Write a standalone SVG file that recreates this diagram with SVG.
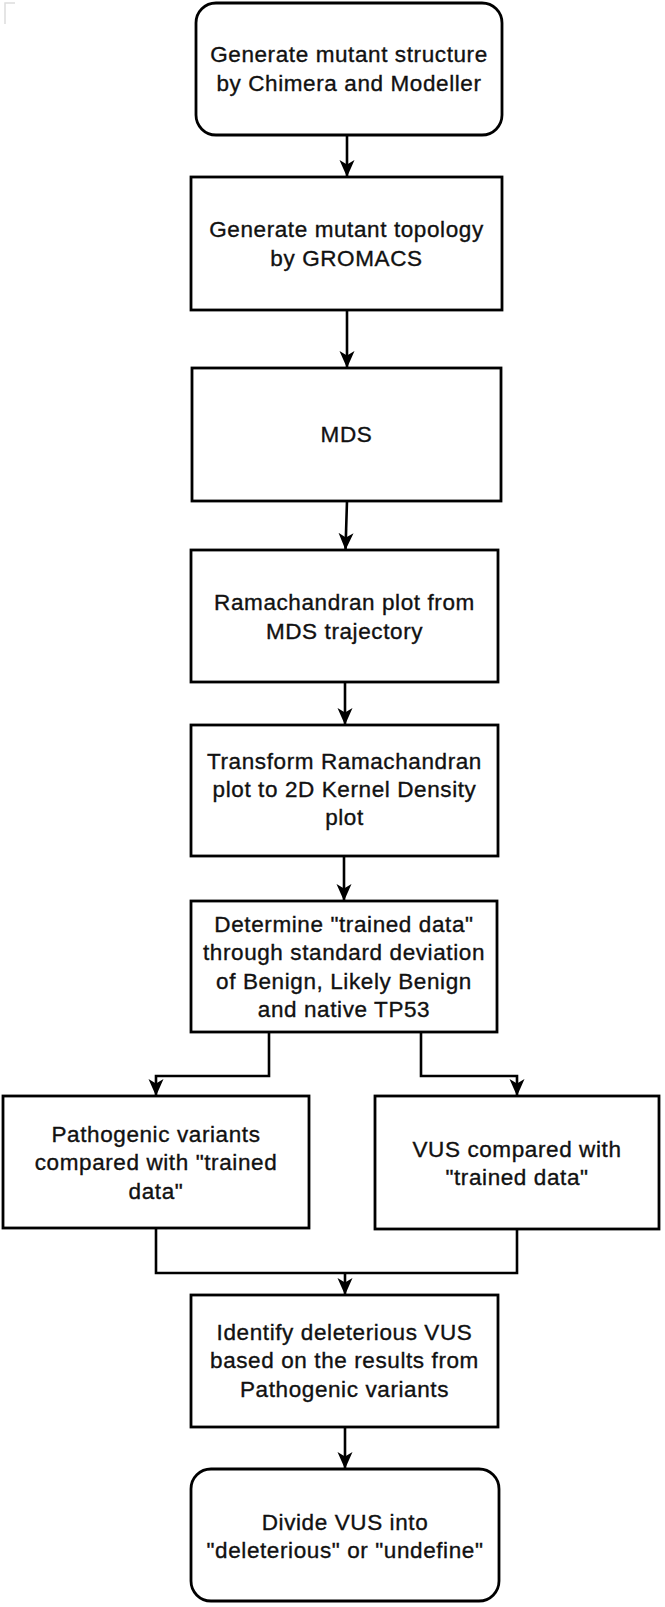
<svg xmlns="http://www.w3.org/2000/svg" width="665" height="1607" viewBox="0 0 665 1607">
<style>
.box{fill:#fff;stroke:#000;stroke-width:2.8}
.t{font-family:"Liberation Sans",Arial,sans-serif;font-size:22.5px;letter-spacing:0.6px;fill:#111;stroke:#111;stroke-width:0.35;text-anchor:middle}
.c{fill:none;stroke:#000;stroke-width:2.6}
</style>
<defs>
<marker id="ah" markerUnits="userSpaceOnUse" markerWidth="18" markerHeight="18" viewBox="0 0 18 18" refX="17" refY="9" orient="auto">
<path d="M0,1.5 L17,9 L0,16.5 L4.5,9 z" fill="#000"/>
</marker>
</defs>
<rect width="665" height="1607" fill="#fff"/>
<path d="M15,3 H5 V24" fill="none" stroke="#ddd" stroke-width="1.5"/>
<g id="connectors">
<path class="c" d="M347,135 V177" marker-end="url(#ah)"/>
<path class="c" d="M347,310 V368" marker-end="url(#ah)"/>
<path class="c" d="M347,501 L345.5,550" marker-end="url(#ah)"/>
<path class="c" d="M345,682 V725" marker-end="url(#ah)"/>
<path class="c" d="M344,856 V901" marker-end="url(#ah)"/>
<path class="c" d="M269,1032 V1076 H156 V1096" marker-end="url(#ah)"/>
<path class="c" d="M421,1032 V1076 H517 V1096" marker-end="url(#ah)"/>
<path class="c" d="M156,1228 V1273 H517 V1229"/>
<path class="c" d="M345,1273 V1295" marker-end="url(#ah)"/>
<path class="c" d="M345,1427 V1469" marker-end="url(#ah)"/>
</g>
<g id="n1"><rect class="box" x="196" y="3" width="306" height="132" rx="20"/>
<text class="t" x="349" y="62">Generate mutant structure</text>
<text class="t" x="349" y="91">by Chimera and Modeller</text></g>
<g id="n2"><rect class="box" x="191" y="177" width="311" height="133"/>
<text class="t" x="346.5" y="237">Generate mutant topology</text>
<text class="t" x="346.5" y="266">by GROMACS</text></g>
<g id="n3"><rect class="box" x="192" y="368" width="309" height="133"/>
<text class="t" x="346.5" y="442">MDS</text></g>
<g id="n4"><rect class="box" x="191" y="550" width="307" height="132"/>
<text class="t" x="344.5" y="610">Ramachandran plot from</text>
<text class="t" x="344.5" y="639">MDS trajectory</text></g>
<g id="n5"><rect class="box" x="191" y="725" width="307" height="131"/>
<text class="t" x="344.5" y="769">Transform Ramachandran</text>
<text class="t" x="344.5" y="797">plot to 2D Kernel Density</text>
<text class="t" x="344.5" y="825">plot</text></g>
<g id="n6"><rect class="box" x="191" y="901" width="306" height="131"/>
<text class="t" x="344" y="931.5">Determine "trained data"</text>
<text class="t" x="344" y="960">through standard deviation</text>
<text class="t" x="344" y="988.5">of Benign, Likely Benign</text>
<text class="t" x="344" y="1017">and native TP53</text></g>
<g id="n7"><rect class="box" x="3" y="1096" width="306" height="132"/>
<text class="t" x="156" y="1141.5">Pathogenic variants</text>
<text class="t" x="156" y="1170">compared with "trained</text>
<text class="t" x="156" y="1198.5">data"</text></g>
<g id="n8"><rect class="box" x="375" y="1096" width="284" height="133"/>
<text class="t" x="517" y="1156.5">VUS compared with</text>
<text class="t" x="517" y="1185">"trained data"</text></g>
<g id="n9"><rect class="box" x="191" y="1295" width="307" height="132"/>
<text class="t" x="344.5" y="1339.5">Identify deleterious VUS</text>
<text class="t" x="344.5" y="1368">based on the results from</text>
<text class="t" x="344.5" y="1396.5">Pathogenic variants</text></g>
<g id="n10"><rect class="box" x="191" y="1469" width="308" height="132" rx="20"/>
<text class="t" x="345" y="1530">Divide VUS into</text>
<text class="t" x="345" y="1558">"deleterious" or "undefine"</text></g>
</svg>
